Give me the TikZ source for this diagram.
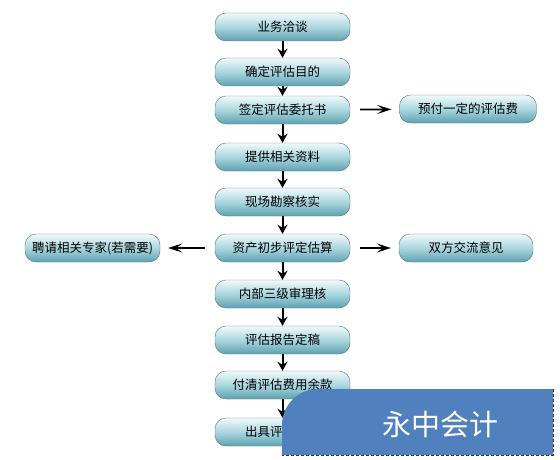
\documentclass[tikz,border=0pt]{standalone}
\usepackage{fontspec}
\setmainfont{Noto Sans CJK SC}
\usetikzlibrary{arrows.meta}

\begin{document}
\begin{tikzpicture}[x=1pt,y=-1pt]
        % Define colors
        \definecolor{boxtop}{RGB}{240, 250, 251}     % light cyan
        \definecolor{boxmiddle}{RGB}{170, 214, 222}  % pale teal
        \definecolor{boxbottom}{RGB}{92, 162, 176}   % teal
        \definecolor{boxborder}{RGB}{96, 112, 118}   % grey
        \definecolor{bannercolor}{RGB}{80, 128, 190} % blue

        \tikzset{
            stepbox/.style={draw=boxborder, rounded corners=11pt, minimum width=135pt,
                minimum height=28pt, inner sep=0pt, top color=boxtop, bottom color=boxbottom,
                middle color=boxmiddle, font=\fontsize{12.5}{14}\selectfont},
            downarrow/.style={-{Stealth[length=9pt, width=10pt]}, line width=2pt},
            sidearrow/.style={-{Stealth[length=14pt, width=9pt, inset=6pt]}, line width=1.8pt, shorten >=8pt, shorten <=10pt}
        }

        \useasboundingbox (0,0) rectangle (560,460);

        % Draw main steps
        \node[stepbox] (talk) at (282.5,27) {业务洽谈};
        \node[stepbox] (goal) at (282.5,72) {确定评估目的};
        \node[stepbox] (contract) at (282.5,110) {签定评估委托书};
        \node[stepbox] (data) at (282.5,157) {提供相关资料};
        \node[stepbox] (survey) at (282.5,202) {现场勘察核实};
        \node[stepbox] (estimate) at (282.5,248) {资产初步评定估算};
        \node[stepbox] (review) at (282.5,294) {内部三级审理核};
        \node[stepbox] (draft) at (282.5,340) {评估报告定稿};
        \node[stepbox] (payment) at (282.5,385) {付清评估费用余款};
        \node[stepbox] (report) at (282.5,432) {出具评估报告};

        % Draw side steps
        \node[stepbox, minimum width=137pt] (prepay) at (468,109) {预付一定的评估费};
        \node[stepbox, minimum width=134pt] (exchange) at (466,248) {双方交流意见};
        \node[stepbox] (expert) at (92.5,248) {聘请相关专家(若需要)};

        % Draw arrows down the main column
        \draw[downarrow] (talk) -- (goal);
        \draw[downarrow] (goal) -- (contract);
        \draw[downarrow] (contract) -- (data);
        \draw[downarrow] (data) -- (survey);
        \draw[downarrow] (survey) -- (estimate);
        \draw[downarrow] (estimate) -- (review);
        \draw[downarrow] (review) -- (draft);
        \draw[downarrow] (draft) -- (payment);
        \draw[downarrow] (payment) -- (report);

        % Arrows to the side steps
        \draw[sidearrow] (contract) -- (prepay);
        \draw[sidearrow] (estimate) -- (exchange);
        \draw[sidearrow] (estimate) -- (expert);

        % Draw banner
        \fill[bannercolor] (282,455) [rounded corners=36pt] -- (282,389) [sharp corners] -- (553,389) -- (553,455) -- cycle;
        \draw[densely dashed, line width=1pt, black!80] (553,389) -- (553,455) -- (282,455);
        \node[text=white, font=\fontsize{29}{32}\selectfont] (banner) at (440,424) {永中会计};

    \end{tikzpicture}
\end{document}
